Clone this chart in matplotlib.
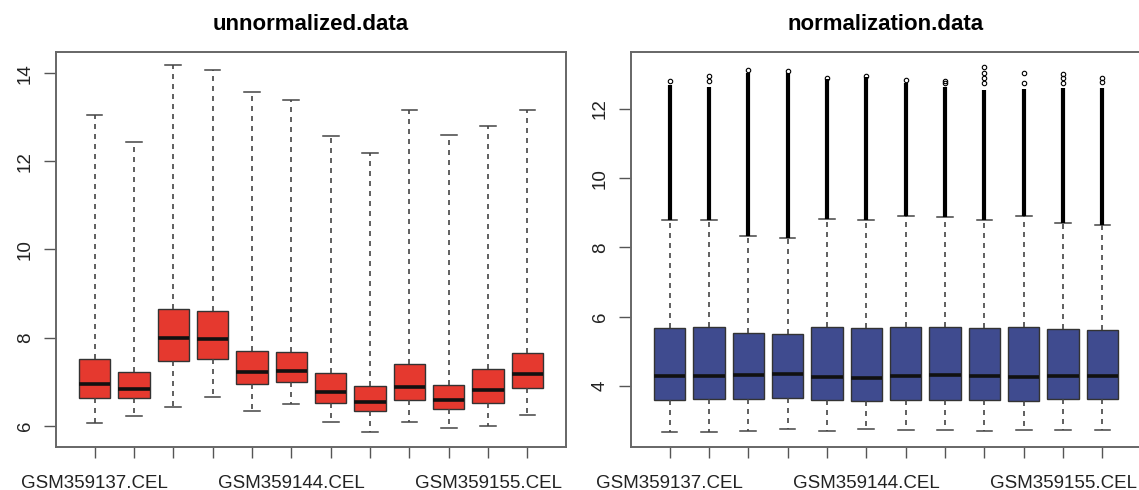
import matplotlib.pyplot as plt
import numpy as np

plt.rcParams['font.family'] = ['Liberation Sans', 'DejaVu Sans']

# unnormalized.data : box stats per array
raw_whislo = [6.07, 6.23, 6.43, 6.66, 6.34, 6.50, 6.09, 5.86, 6.09, 5.95, 6.00, 6.25]
raw_q1 = [6.64, 6.64, 7.48, 7.52, 6.95, 7.00, 6.52, 6.34, 6.59, 6.39, 6.52, 6.86]
raw_med = [6.95, 6.84, 8.00, 7.98, 7.23, 7.25, 6.77, 6.55, 6.89, 6.59, 6.82, 7.18]
raw_q3 = [7.52, 7.23, 8.64, 8.60, 7.70, 7.68, 7.20, 6.91, 7.41, 6.93, 7.30, 7.66]
raw_whishi = [13.05, 12.43, 14.18, 14.07, 13.57, 13.39, 12.57, 12.20, 13.16, 12.59, 12.80, 13.16]

# normalization.data
norm_whislo = [2.67, 2.68, 2.70, 2.76, 2.70, 2.75, 2.73, 2.73, 2.70, 2.73, 2.73, 2.73]
norm_q1 = [3.60, 3.62, 3.63, 3.66, 3.60, 3.58, 3.60, 3.60, 3.60, 3.57, 3.62, 3.62]
norm_med = [4.29, 4.29, 4.31, 4.34, 4.27, 4.23, 4.29, 4.32, 4.29, 4.27, 4.30, 4.30]
norm_q3 = [5.67, 5.70, 5.53, 5.50, 5.70, 5.67, 5.71, 5.71, 5.67, 5.71, 5.65, 5.62]
norm_whishi = [8.79, 8.79, 8.33, 8.27, 8.81, 8.79, 8.90, 8.87, 8.79, 8.90, 8.70, 8.65]
# dense outlier run (drawn as solid column) and sparse top outliers
norm_out_top = [12.68, 12.63, 13.03, 13.03, 12.86, 12.92, 12.74, 12.63, 12.54, 12.57, 12.60, 12.60]
norm_out_sparse = [[12.80], [12.80, 12.94], [13.12], [13.09], [12.88], [12.95],
                   [12.83], [12.74, 12.80], [12.74, 12.88, 13.03, 13.20], [12.74, 13.03],
                   [12.74, 12.88, 13.00], [12.77, 12.88]]

shown_labels = {1: 'GSM359137.CEL', 6: 'GSM359144.CEL', 11: 'GSM359155.CEL'}
n = len(raw_med)
pos = np.arange(1, n + 1)

fig = plt.figure(figsize=(11.39, 4.9), dpi=100)
ax1 = fig.add_axes([56 / 1139, 43 / 490, 510 / 1139, 395 / 490])
ax2 = fig.add_axes([631 / 1139, 43 / 490, 510 / 1139, 395 / 490])


def draw(ax, lo, q1, med, q3, hi, color, title, ylim, yticks):
    stats = [dict(whislo=lo[i], q1=q1[i], med=med[i], q3=q3[i], whishi=hi[i], fliers=[])
             for i in range(n)]
    ax.bxp(stats, positions=pos, widths=0.8, capwidths=0.4, showfliers=False,
           patch_artist=True,
           boxprops=dict(facecolor=color, edgecolor='#333333', linewidth=1.0),
           medianprops=dict(color='#111111', linewidth=2.6, solid_capstyle='butt'),
           whiskerprops=dict(color='#444444', linewidth=1.2, linestyle=(0, (3, 3))),
           capprops=dict(color='#444444', linewidth=1.1))
    ax.set_xlim(0.02, n + 0.98)
    ax.set_ylim(*ylim)
    ax.set_yticks(yticks)
    ax.set_yticklabels([str(t) for t in yticks], rotation=90, va='center')
    ax.set_xticks(pos)
    ax.set_xticklabels([shown_labels.get(p, '') for p in pos])
    ax.tick_params(axis='x', length=8, width=1.0, color='#555555', pad=12, labelsize=13.5,
                   labelcolor='#222222')
    ax.tick_params(axis='y', length=9, width=1.0, color='#555555', pad=7, labelsize=13.5,
                   labelcolor='#222222')
    for s in ax.spines.values():
        s.set_color('#666666')
        s.set_linewidth(1.4)
    ax.set_title(title, fontsize=16, fontweight='bold', pad=16)


draw(ax1, raw_whislo, raw_q1, raw_med, raw_q3, raw_whishi, '#E5392F',
     'unnormalized.data', (5.52, 14.48), [6, 8, 10, 12, 14])
draw(ax2, norm_whislo, norm_q1, norm_med, norm_q3, norm_whishi, '#3F4B8F',
     'normalization.data', (2.24, 13.64), [4, 6, 8, 10, 12])

# outliers on the normalized panel
ax2.vlines(pos, norm_whishi, norm_out_top, color='black', linewidth=3.0, zorder=3)
for p, vals in zip(pos, norm_out_sparse):
    ax2.plot([p] * len(vals), vals, 'o', markersize=3.2, markerfacecolor='none',
             markeredgecolor='black', markeredgewidth=0.8, zorder=3)

plt.savefig('out.png', dpi=100)
